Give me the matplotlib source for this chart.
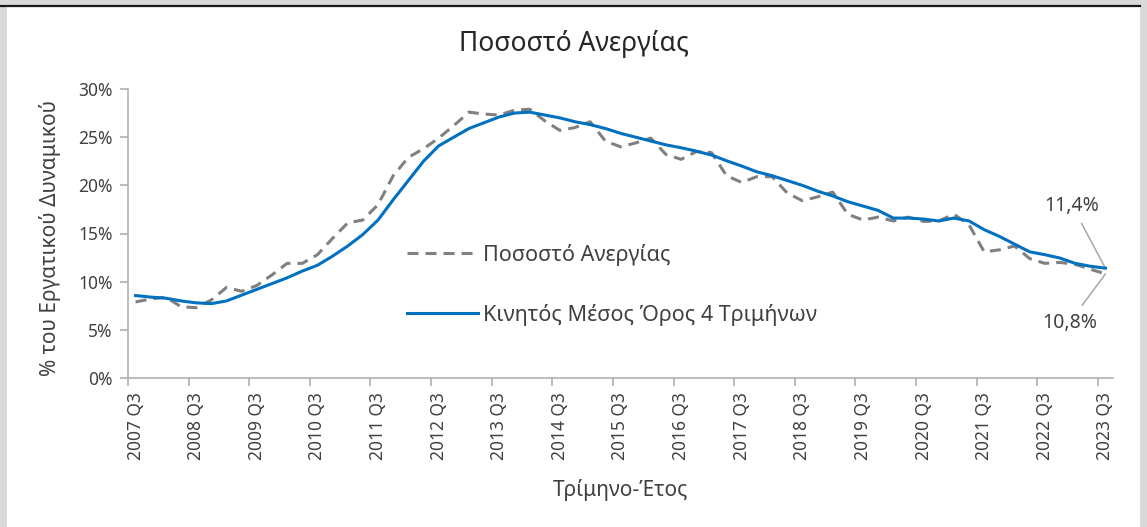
import matplotlib
matplotlib.use("Agg")
import matplotlib.pyplot as plt
from matplotlib.patches import Rectangle
from matplotlib.lines import Line2D

plt.rcParams['font.family'] = ['Noto Sans', 'DejaVu Sans']

# Quarterly categories 2007 Q3 .. 2023 Q3
quarters = []
for y in range(2007, 2024):
    for q in (1, 2, 3, 4):
        if (y == 2007 and q < 3) or (y == 2023 and q > 3):
            continue
        quarters.append(f"{y} Q{q}")

unemployment = [7.9, 8.2, 8.4, 7.4, 7.3, 8.1, 9.4, 9.0, 9.6, 10.7, 11.9, 11.9,
                12.8, 14.5, 16.1, 16.4, 18.0, 21.0, 22.9, 23.8, 24.9, 26.2, 27.6, 27.4,
                27.3, 27.8, 27.9, 26.7, 25.7, 26.0, 26.6, 24.6, 24.0, 24.4, 24.9, 23.2,
                22.7, 23.5, 23.4, 21.0, 20.3, 20.9, 20.9, 19.2, 18.4, 18.8, 19.3, 17.0,
                16.4, 16.7, 16.3, 16.7, 16.25, 16.3, 17.0, 15.9, 13.1, 13.3, 13.7, 12.4,
                11.9, 12.0, 11.8, 11.3, 10.8]
moving_avg = [8.56, 8.4, 8.28, 8.0, 7.8, 7.72, 8.0, 8.6, 9.2, 9.8, 10.4, 11.1,
              11.7, 12.65, 13.7, 14.9, 16.4, 18.5, 20.5, 22.5, 24.1, 25.0, 25.9, 26.5,
              27.1, 27.5, 27.6, 27.3, 27.0, 26.6, 26.3, 25.9, 25.4, 25.0, 24.6, 24.2,
              23.9, 23.55, 23.15, 22.55, 22.0, 21.4, 21.0, 20.5, 20.0, 19.4, 18.9, 18.3,
              17.85, 17.4, 16.6, 16.6, 16.5, 16.3, 16.6, 16.3, 15.4, 14.7, 13.9, 13.1,
              12.8, 12.45, 11.9, 11.6, 11.4]
y_ticks = [0, 5, 10, 15, 20, 25, 30]
y_tick_labels = ["0%", "5%", "10%", "15%", "20%", "25%", "30%"]

title = "Ποσοστό Ανεργίας"
legend_labels = ["Ποσοστό Ανεργίας", "Κινητός Μέσος Όρος 4 Τριμήνων"]
y_label = "% του Εργατικού Δυναμικού"
x_label = "Τρίμηνο-Έτος"

W, H = 1147, 527
fig = plt.figure(figsize=(W / 100, H / 100), dpi=100)
fig.patch.set_facecolor('#d9d9d9')
# white panel
fig.add_artist(Rectangle((7 / W, 0), (1140 - 7) / W, (H - 7) / H,
                         transform=fig.transFigure, facecolor='white',
                         edgecolor='none', zorder=0))
fig.add_artist(Line2D([0, 1140 / W], [1 - 6 / H, 1 - 6 / H], transform=fig.transFigure,
                      color='#1a1a1a', lw=1.6, zorder=1))

ax = fig.add_axes([128 / W, 1 - 378 / H, (1113 - 128) / W, (378 - 89) / H])
ax.set_facecolor('none')

x = list(range(len(quarters)))
text_col = '#404040'
ax.plot(x, unemployment, color='#808080', lw=2.2, dashes=(3.6, 2.3),
        dash_capstyle='butt', label=legend_labels[0], zorder=3)
ax.plot(x, moving_avg, color='#0070C0', lw=2.2, label=legend_labels[1], zorder=4,
        solid_joinstyle='round')

ax.set_xlim(-0.5, len(quarters) - 0.5)
ax.set_ylim(0, 30)
ax.set_yticks(y_ticks)
ax.set_yticklabels(y_tick_labels)
label_pos = x[::4]
ax.set_xticks(label_pos)
ax.set_xticklabels([quarters[i] for i in label_pos], rotation=90, va='top', ha='center')
ax.set_xticks([i - 0.5 for i in label_pos], minor=True)
ax.tick_params(axis='x', which='major', length=0, pad=10, labelsize=12.5, labelcolor=text_col)
ax.tick_params(axis='x', which='minor', length=6, width=1.2, color='#b0b0b0', direction='out')
ax.tick_params(axis='y', which='major', length=6, width=1.2, color='#b0b0b0', pad=5,
               labelsize=12.5, labelcolor=text_col)

for s in ('top', 'right'):
    ax.spines[s].set_visible(False)
for s in ('left', 'bottom'):
    ax.spines[s].set_color('#b0b0b0')
    ax.spines[s].set_linewidth(1.2)

fig.text(574 / W, 1 - 44 / H, title, ha='center', va='center', fontsize=19, color='#262626')
ax.set_ylabel(y_label, fontsize=15, color=text_col)
ax.yaxis.set_label_coords(-0.068, (378 - 238) / 289)
ax.set_xlabel(x_label, fontsize=15, color=text_col, labelpad=14)

leg = ax.legend(loc='upper left', bbox_to_anchor=((407 - 128) / 985, (378 - 244) / 289),
                frameon=False, borderpad=0, borderaxespad=0,
                fontsize=15.5, handlelength=3.3, labelspacing=1.75, handletextpad=0.25,
                labelcolor=text_col)

ax.annotate("11,4%", xy=(x[-1], moving_avg[-1]), xytext=(-24, 45), textcoords='offset points',
            ha='center', va='center', fontsize=14, color=text_col,
            arrowprops=dict(arrowstyle='-', color='#a6a6a6', lw=1.1, shrinkA=4, shrinkB=0))
ax.annotate("10,8%", xy=(x[-1], unemployment[-1]), xytext=(-26, -35), textcoords='offset points',
            ha='center', va='center', fontsize=14, color=text_col,
            arrowprops=dict(arrowstyle='-', color='#a6a6a6', lw=1.1, shrinkA=4, shrinkB=0))

fig.savefig("out.png", dpi=100)
